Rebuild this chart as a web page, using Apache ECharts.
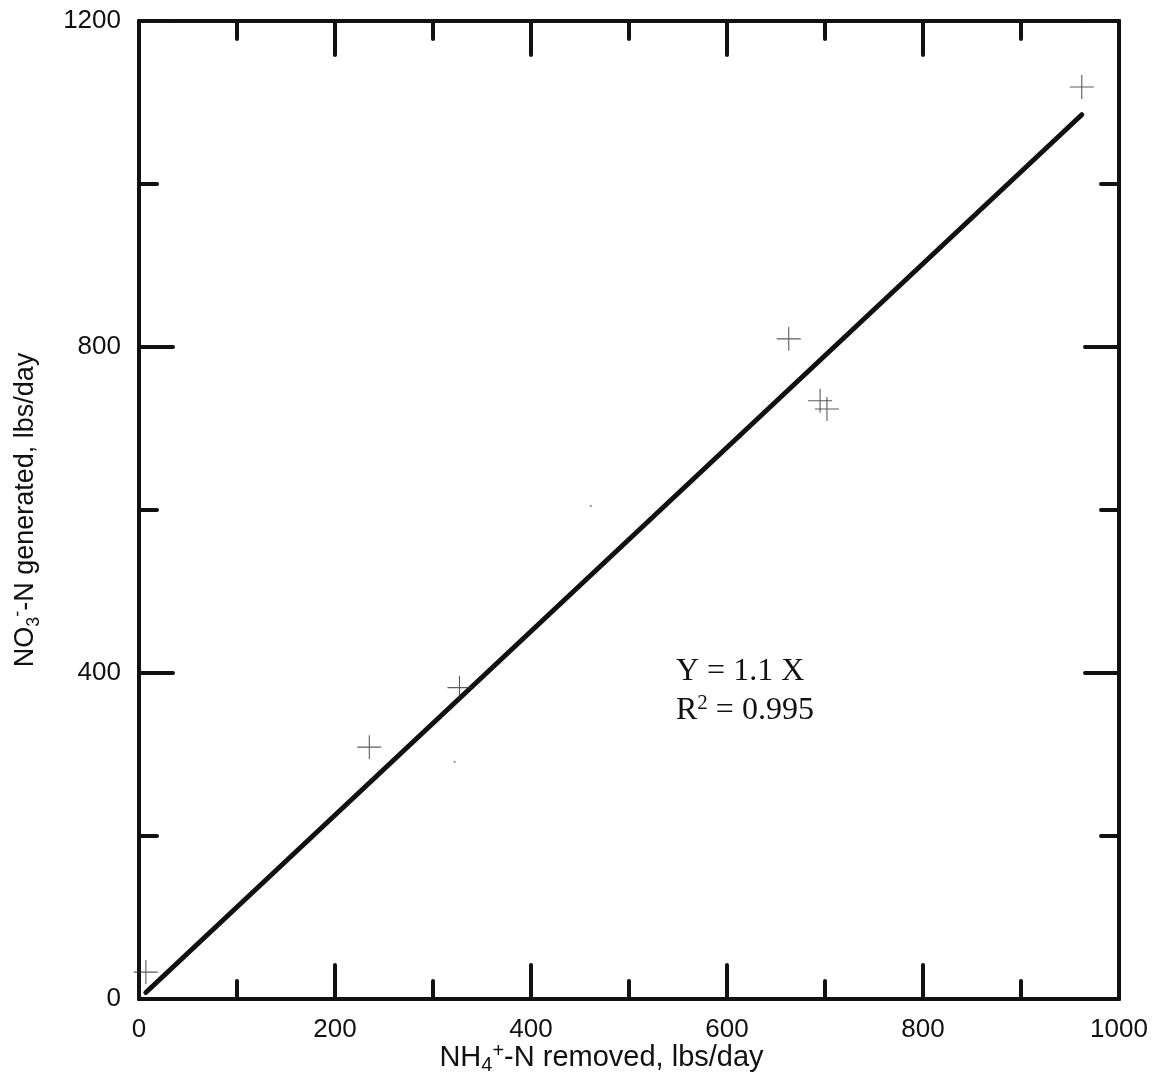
<!DOCTYPE html>
<html>
<head>
<meta charset="utf-8">
<script src="https://cdn.jsdelivr.net/npm/echarts@6/dist/echarts.min.js"></script>
<style>
  html, body { margin: 0; padding: 0; background: #fff; }
  #chart { width: 1156px; height: 1077px; }
</style>
</head>
<body>
<div id="chart"></div>
<script>
// Measured NH4+-N removed vs NO3--N generated (lbs/day)
const nh4Removed   = [7, 235, 327, 663, 695, 702, 962];
const no3Generated = [33, 309, 382, 810, 734, 724, 1119];

// Faint isolated specks in the plot field
const speckX = [461, 322];
const speckY = [605, 291];

// Fitted regression line endpoints
const fitX = [7, 962];
const fitY = [8, 1085];

const xTicks = [0, 200, 400, 600, 800, 1000];
const yTicks = [0, 400, 800, 1200];

const ink = '#111';
const sans = 'Liberation Sans, Arial, sans-serif';
const serif = 'Liberation Serif, Times New Roman, serif';

// Plus-shaped marker built as a filled outline so it renders as a thin cross
const crossPath = 'path://M-0.55,-12 L0.55,-12 L0.55,-0.55 L12,-0.55 L12,0.55 L0.55,0.55 L0.55,12 L-0.55,12 L-0.55,0.55 L-12,0.55 L-12,-0.55 L-0.55,-0.55 Z';

function zip(a, b) { return a.map((v, i) => [v, b[i]]); }

function frameAxis(extra) {
  return Object.assign({
    type: 'value',
    axisLine: { show: true, onZero: false, lineStyle: { color: ink, width: 4 } },
    axisTick: { show: true, inside: true, length: 34, lineStyle: { color: ink, width: 4, cap: 'round' } },
    minorTick: { show: true, splitNumber: 2, length: 18, lineStyle: { color: ink, width: 4, cap: 'round' } },
    splitLine: { show: false },
    minorSplitLine: { show: false }
  }, extra);
}

function nameRich(size) {
  return {
    a: { fontFamily: sans, fontSize: size, color: ink, lineHeight: 34 },
    sub: { fontFamily: sans, fontSize: Math.round(size * 0.68), color: ink, lineHeight: 16, verticalAlign: 'bottom' },
    sup: { fontFamily: sans, fontSize: Math.round(size * 0.68), color: ink, lineHeight: 16, verticalAlign: 'top' }
  };
}

const chart = echarts.init(document.getElementById('chart'), null, { renderer: 'canvas' });

chart.setOption({
  animation: false,
  backgroundColor: '#fff',
  grid: { left: 139, right: 37, top: 21, bottom: 78, containLabel: false, outerBoundsMode: 'none' },
  xAxis: [
    frameAxis({
      position: 'bottom', min: 0, max: 1000, interval: 200,
      axisLabel: { show: true, color: ink, fontFamily: sans, fontSize: 26, margin: 18,
        formatter: v => xTicks.includes(v) ? String(v) : '' },
      name: '{a|NH}{sub|4}{sup|+}{a|-N removed, lbs/day}',
      nameLocation: 'middle',
      nameGap: 42,
      nameMoveOverlap: false,
      nameTextStyle: { padding: [0, 55, 0, 0], rich: nameRich(29) }
    }),
    frameAxis({
      position: 'top', min: 0, max: 1000, interval: 200,
      axisLabel: { show: false }
    })
  ],
  yAxis: [
    frameAxis({
      position: 'left', min: 0, max: 1200, interval: 400,
      axisLabel: { show: true, color: ink, fontFamily: sans, fontSize: 26, margin: 18,
        formatter: v => yTicks.includes(v) ? String(v) : '' },
      name: '{a|NO}{sub|3}{sup|-}{a|-N generated, lbs/day}',
      nameLocation: 'middle',
      nameGap: 96,
      nameRotate: 90,
      nameTextStyle: { rich: nameRich(27) }
    }),
    frameAxis({
      position: 'right', min: 0, max: 1200, interval: 400,
      axisLabel: { show: false }
    })
  ],
  graphic: [
    {
      type: 'text', left: 676, top: 656, z: 10,
      style: { text: 'Y = 1.1 X', fontFamily: serif, fontSize: 32, fill: ink }
    },
    {
      type: 'text', left: 676, top: 693, z: 10,
      style: {
        text: '{t|R}{s|2}{t| = 0.995}',
        rich: {
          t: { fontFamily: serif, fontSize: 32, fill: ink, lineHeight: 36 },
          s: { fontFamily: serif, fontSize: 21, fill: ink, lineHeight: 18, verticalAlign: 'top' }
        }
      }
    }
  ],
  series: [
    {
      type: 'line',
      data: zip(fitX, fitY),
      showSymbol: false,
      symbol: 'none',
      lineStyle: { color: ink, width: 5, cap: 'round' },
      z: 3
    },
    {
      type: 'scatter',
      data: zip(nh4Removed, no3Generated),
      symbol: crossPath,
      symbolSize: 24,
      itemStyle: { color: '#333' },
      z: 4
    },
    {
      type: 'scatter',
      data: zip(speckX, speckY),
      symbol: 'rect',
      symbolSize: 2,
      itemStyle: { color: '#777' },
      z: 4
    }
  ]
});
</script>
</body>
</html>
